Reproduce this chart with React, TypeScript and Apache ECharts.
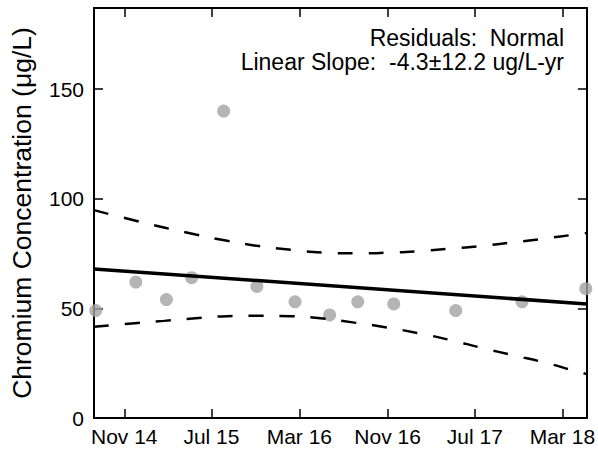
import React, { useEffect, useRef } from "react";
import * as echarts from "echarts";

// Observations
const obsDates = [
  "2014-08-14", "2014-12-03", "2015-02-26", "2015-05-07", "2015-08-04",
  "2015-11-04", "2016-02-18", "2016-05-24", "2016-08-10", "2016-11-18",
  "2017-05-09", "2017-11-09", "2018-05-05",
];
const obsValues = [49, 62, 54, 64, 140, 60, 53, 47, 53, 52, 49, 53, 59];

// Linear fit
const fitDates = ["2014-08-09", "2018-05-08"];
const fitValues = [68, 52];

// Confidence band
const bandDates = [
  "2014-08-09", "2014-11-22", "2015-02-19", "2015-05-18", "2015-08-14",
  "2015-11-10", "2016-02-07", "2016-05-05", "2016-08-01", "2016-10-29",
  "2017-01-25", "2017-04-23", "2017-07-20", "2017-10-16", "2018-01-13",
  "2018-04-06", "2018-05-08",
];
const upperValues = [
  94.8, 90.4, 86.9, 83.7, 80.8, 78.4, 76.7, 75.5, 75.1, 75.4, 76.1, 77.2,
  78.5, 80.1, 81.9, 83.7, 84.4,
];
const lowerValues = [
  41.6, 43.1, 44.3, 45.5, 46.4, 46.6, 46.4, 45.4, 43.5, 41.3, 38.7, 35.6,
  32.0, 28.6, 25.2, 21.4, 20.0,
];

// Axes
const xMinDate = "2014-08-09";
const xMaxDate = "2018-05-08";
const xTickDates = ["2014-11-01", "2015-07-01", "2016-03-01", "2016-11-01", "2017-07-01", "2018-03-01"];
const yTicks = [0, 50, 100, 150];
const yMax = 187;

const annotationLines = ["Residuals:  Normal", "Linear Slope:  -4.3±12.2 ug/L-yr"];
const yAxisTitle = "Chromium Concentration (μg/L)";

const MONTHS = ["Jan", "Feb", "Mar", "Apr", "May", "Jun", "Jul", "Aug", "Sep", "Oct", "Nov", "Dec"];

function ts(s: string): number {
  const [y, m, d] = s.split("-").map(Number);
  return Date.UTC(y, m - 1, d);
}

function fmt(v: number): string {
  const d = new Date(v);
  return MONTHS[d.getUTCMonth()] + " " + String(d.getUTCFullYear() % 100).padStart(2, "0");
}

const FONT = "'Liberation Sans', Arial, sans-serif";

export default function App() {
  const ref = useRef<HTMLDivElement>(null);
  useEffect(() => {
    if (!ref.current) return;
    const chart = echarts.init(ref.current, undefined, { renderer: "svg" });
    const xMin = ts(xMinDate);
    const xMax = ts(xMaxDate);
    const xTicks = xTickDates.map(ts);
    const axisLine = { show: true, onZero: false, lineStyle: { color: "#000", width: 2 } };
    const tickStyle = { show: true, inside: true, length: 9, lineStyle: { color: "#000", width: 1.5 } };
    chart.setOption({
      animation: false,
      backgroundColor: "#fff",
      textStyle: { fontFamily: FONT },
      grid: { left: 93, right: 9, top: 8, bottom: 33, containLabel: false },
      xAxis: [
        {
          type: "value",
          min: xMin,
          max: xMax,
          position: "bottom",
          axisLine,
          axisTick: { ...tickStyle, customValues: xTicks },
          axisLabel: {
            show: true,
            customValues: xTicks,
            formatter: (v: number) => fmt(v),
            fontSize: 21,
            color: "#000",
            fontFamily: FONT,
            margin: 8,
          },
          splitLine: { show: false },
        },
        {
          type: "value",
          min: xMin,
          max: xMax,
          position: "top",
          axisLine,
          axisTick: { ...tickStyle, customValues: xTicks },
          axisLabel: { show: false },
          splitLine: { show: false },
        },
      ],
      yAxis: [
        {
          type: "value",
          min: 0,
          max: yMax,
          position: "left",
          name: yAxisTitle,
          nameLocation: "middle",
          nameGap: 59,
          nameTextStyle: { fontSize: 26.5, color: "#000", fontFamily: FONT },
          axisLine,
          axisTick: { ...tickStyle, customValues: yTicks },
          axisLabel: {
            show: true,
            customValues: yTicks,
            fontSize: 21,
            color: "#000",
            fontFamily: FONT,
            margin: 10,
          },
          splitLine: { show: false },
        },
        {
          type: "value",
          min: 0,
          max: yMax,
          position: "right",
          axisLine,
          axisTick: { ...tickStyle, customValues: yTicks },
          axisLabel: { show: false },
          splitLine: { show: false },
        },
      ],
      series: [
        {
          type: "scatter",
          xAxisIndex: 0,
          yAxisIndex: 0,
          symbol: "circle",
          symbolSize: 13,
          itemStyle: { color: "#a3a3a3" },
          data: obsDates.map((d, i) => [ts(d), obsValues[i]]),
          z: 2,
        },
        {
          type: "line",
          xAxisIndex: 0,
          yAxisIndex: 0,
          showSymbol: false,
          symbol: "none",
          lineStyle: { color: "#000", width: 3.5 },
          data: fitDates.map((d, i) => [ts(d), fitValues[i]]),
          z: 3,
        },
        {
          type: "line",
          xAxisIndex: 0,
          yAxisIndex: 0,
          showSymbol: false,
          symbol: "none",
          smooth: true,
          lineStyle: { color: "#000", width: 2.5, type: [15, 16] },
          data: bandDates.map((d, i) => [ts(d), upperValues[i]]),
          z: 3,
        },
        {
          type: "line",
          xAxisIndex: 0,
          yAxisIndex: 0,
          showSymbol: false,
          symbol: "none",
          smooth: true,
          lineStyle: { color: "#000", width: 2.5, type: [15, 16] },
          data: bandDates.map((d, i) => [ts(d), lowerValues[i]]),
          z: 3,
        },
      ],
      graphic: annotationLines.map((t, i) => ({
        type: "text",
        x: 564,
        y: 38 + i * 24,
        style: {
          text: t,
          fontSize: 23,
          fill: "#000",
          fontFamily: FONT,
          textAlign: "right",
          textVerticalAlign: "middle",
        },
      })),
    });
    return () => chart.dispose();
  }, []);
  return (
    <div
      ref={ref}
      style={{ position: "fixed", left: 0, top: 0, width: 598, height: 451 }}
    />
  );
}
